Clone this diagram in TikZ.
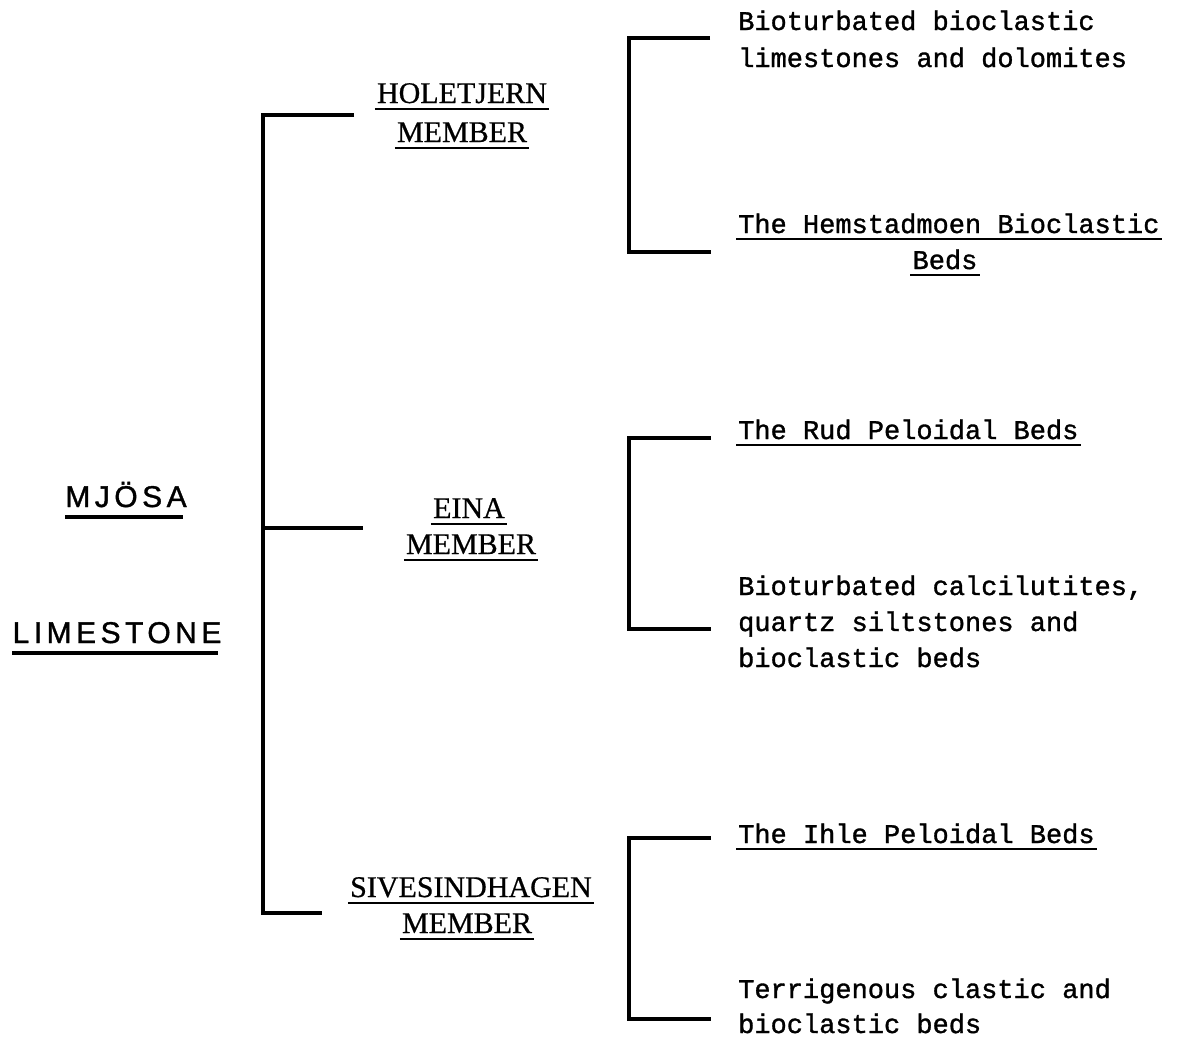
\documentclass[tikz,border=0pt]{standalone}
\usepackage{fontspec}
\newfontfamily\memfont[FakeBold=0.6]{Liberation Serif}
\newfontfamily\typfont[FakeBold=1.2]{Liberation Mono}
\newfontfamily\titfont[LetterSpace=15,FakeBold=1.2]{Liberation Sans}
\begin{document}
\begin{tikzpicture}[x=1pt,y=-1pt,
  br/.style={line width=3.4pt},
  ulthin/.style={line width=1.8pt},
  ulthick/.style={line width=3.2pt},
  mem/.style={inner sep=0pt,anchor=base,font=\memfont\fontsize{30}{36}\selectfont},
  typ/.style={inner sep=0pt,anchor=base west,font=\typfont\fontsize{27}{36}\selectfont},
  tit/.style={inner sep=0pt,anchor=base,font=\titfont\fontsize{30}{36}\selectfont}]
\useasboundingbox (0,0) rectangle (1197,1042);

% left title
\node[tit] (mjosa) at (126,507) {MJÖSA};
\node[tit] (lime) at (117,643) {LIMESTONE};
\draw[ulthick] ([yshift=-10pt]mjosa.base west) -- ([yshift=-10pt,xshift=-4pt]mjosa.base east);
\draw[ulthick] ([yshift=-10pt]lime.base west) -- ([yshift=-10pt,xshift=-4pt]lime.base east);

% members
\node[mem] (hol) at (462,103) {HOLETJERN};
\node[mem] (holm) at (462,142) {MEMBER};
\node[mem] (eina) at (469,518) {EINA};
\node[mem] (einam) at (471,554) {MEMBER};
\node[mem] (sive) at (471,897) {SIVESINDHAGEN};
\node[mem] (sivem) at (467,933) {MEMBER};
\foreach \n in {hol,holm,eina,einam,sive,sivem}{
  \draw[ulthin] ([xshift=-2pt,yshift=-6pt]\n.base west) -- ([xshift=2pt,yshift=-6pt]\n.base east);
}

% main bracket
\coordinate (mtop) at (263,115);
\coordinate (mmid) at (263,528);
\coordinate (mbot) at (263,913);
\coordinate (mtopE) at (354,115);
\coordinate (mmidE) at (363,528);
\coordinate (mbotE) at (322,913);
\draw[br] (mtopE) -- (mtop) -- (mbot) -- (mbotE);
\draw[br] (mmid) -- (mmidE);

% right brackets
\coordinate (aT) at (629,38);   \coordinate (aTE) at (710,38);
\coordinate (aB) at (629,252);  \coordinate (aBE) at (711,252);
\coordinate (bT) at (629,438);  \coordinate (bTE) at (711,438);
\coordinate (bB) at (629,629);  \coordinate (bBE) at (711,629);
\coordinate (cT) at (629,838);  \coordinate (cTE) at (711,838);
\coordinate (cB) at (629,1019); \coordinate (cBE) at (711,1019);
\draw[br] (aTE) -- (aT) -- (aB) -- (aBE);
\draw[br] (bTE) -- (bT) -- (bB) -- (bBE);
\draw[br] (cTE) -- (cT) -- (cB) -- (cBE);

% right texts
\node[typ] (r1a) at (738,30) {Bioturbated bioclastic};
\node[typ] (r1b) at (738,67) {limestones and dolomites};
\node[typ] (r2a) at (738,233) {The Hemstadmoen Bioclastic};
\node[typ,anchor=base] (r2b) at (945,269) {Beds};
\node[typ] (r3) at (738,439) {The Rud Peloidal Beds};
\node[typ] (r4a) at (738,595) {Bioturbated calcilutites,};
\node[typ] (r4b) at (738,631) {quartz siltstones and};
\node[typ] (r4c) at (738,667) {bioclastic beds};
\node[typ] (r5) at (738,843) {The Ihle Peloidal Beds};
\node[typ] (r6a) at (738,998) {Terrigenous clastic and};
\node[typ] (r6b) at (738,1033) {bioclastic beds};
\foreach \n in {r2a,r2b,r3,r5}{
  \draw[ulthin] ([xshift=-2pt,yshift=-6pt]\n.base west) -- ([xshift=2pt,yshift=-6pt]\n.base east);
}
\end{tikzpicture}
\end{document}
